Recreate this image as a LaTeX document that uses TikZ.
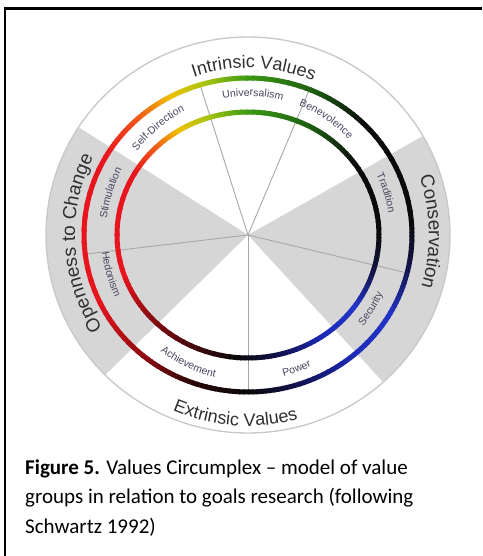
\documentclass[tikz,border=0pt]{standalone}
\usepackage{fontspec}
\usetikzlibrary{decorations.text}
\newfontfamily\capfont{Carlito}
\newfontfamily\lblfont{Liberation Sans}
\definecolor{sectorgray}{HTML}{D6D6D6}
\definecolor{rimgray}{HTML}{C8C8C8}
\definecolor{spokegray}{HTML}{A8A8A8}
\definecolor{biglbl}{HTML}{303030}
\definecolor{smalllbl}{HTML}{4A4660}
\definecolor{rdk}{HTML}{2A0606}
\definecolor{blk}{HTML}{0A0A0A}
\definecolor{navy}{HTML}{121250}
\definecolor{blu1}{HTML}{1C2CB8}
\definecolor{blu2}{HTML}{2234C8}
\definecolor{dkblu}{HTML}{141448}
\definecolor{dgrn}{HTML}{1C5A12}
\definecolor{grn}{HTML}{3C9A14}
\definecolor{ygrn}{HTML}{A8C410}
\definecolor{yel}{HTML}{EEC000}
\definecolor{orn}{HTML}{F05A18}
\definecolor{red1}{HTML}{E8141E}
\definecolor{dred}{HTML}{8A0A10}
\newcommand\bigfont{\lblfont\fontsize{18}{20}\selectfont}
\newcommand\sidefont{\lblfont\fontsize{19}{21}\selectfont}
\newcommand\smallfont{\lblfont\fontsize{10.5}{12}\selectfont}
\def\ringw{5pt}
% gradient arc: #1 rx, #2 ry, #3 a1, #4 a2, #5 c1, #6 c2
\newcommand\gradarc[6]{%
  \foreach \k in {0,...,11}{%
    \pgfmathsetmacro\aa{#3+(#4-#3)*\k/12}%
    \pgfmathsetmacro\dd{(#4-#3)*1.3/12}%
    \pgfmathtruncatemacro\pp{round(100*(\k+0.5)/12)}%
    \colorlet{segc}{#6!\pp!#5}%
    \draw[line width=\ringw, segc] ({\aa}:{#1} and {#2}) arc[start angle=\aa, delta angle=\dd, x radius=#1, y radius=#2];
  }}
\tikzset{
  bigcurved/.style={decorate, decoration={text along path, text align=center, text color=biglbl, text={|\bigfont|#1}}},
  sidecurved/.style={decorate, decoration={text along path, text align=center, text color=biglbl, text={|\sidefont|#1}}},
  smallcurved/.style={decorate, decoration={text along path, text align=center, text color=smalllbl, text={|\smallfont|#1}}},
  spoke/.style={spokegray, line width=0.9pt},
  capline/.style={anchor=base west, inner sep=0pt, font=\capfont\fontsize{21}{25}\selectfont},
}
\begin{document}
\begin{tikzpicture}[x=1pt,y=1pt]
\useasboundingbox (-248,-321) rectangle (234,235);
\fill[white] (-248,-321) rectangle (234,235);
% frame
\draw[line width=2.2pt] (-243,-321) -- (-243,226.5) -- (234,226.5);
\coordinate (ctr) at (0,0);
% gray sectors
\fill[sectorgray] (ctr) -- (147:202 and 198) arc[start angle=147, end angle=225, x radius=202, y radius=198] -- cycle;
\fill[sectorgray] (ctr) -- (-48:202 and 198) arc[start angle=-48, end angle=30, x radius=202, y radius=198] -- cycle;
% outer rim
\draw[rimgray, line width=1.3pt] (ctr) ellipse[x radius=202, y radius=198];
% spokes
\foreach \a in {107,68,-14,-90,187} \draw[spoke] (ctr) -- (\a:164 and 157);
% outer ring
\gradarc{164}{157}{-110}{-90}{rdk}{blk}
\gradarc{164}{157}{-90}{-72}{blk}{navy}
\gradarc{164}{157}{-72}{-50}{navy}{blu1}
\gradarc{164}{157}{-50}{-30}{blu1}{blu2}
\gradarc{164}{157}{-30}{-12}{blu2}{dkblu}
\gradarc{164}{157}{-12}{5}{dkblu}{blk}
\gradarc{164}{157}{5}{45}{blk}{blk}
\gradarc{164}{157}{45}{65}{blk}{dgrn}
\gradarc{164}{157}{65}{90}{dgrn}{grn}
\gradarc{164}{157}{90}{105}{grn}{ygrn}
\gradarc{164}{157}{105}{118}{ygrn}{yel}
\gradarc{164}{157}{118}{132}{yel}{orn}
\gradarc{164}{157}{132}{150}{orn}{red1}
\gradarc{164}{157}{150}{205}{red1}{red1}
\gradarc{164}{157}{205}{232}{red1}{dred}
\gradarc{164}{157}{232}{250}{dred}{rdk}
% inner ring
\gradarc{131}{123}{-95}{-75}{blk}{navy}
\gradarc{131}{123}{-75}{-55}{navy}{blu1}
\gradarc{131}{123}{-55}{-35}{blu1}{blu2}
\gradarc{131}{123}{-35}{-18}{blu2}{dkblu}
\gradarc{131}{123}{-18}{0}{dkblu}{blk}
\gradarc{131}{123}{0}{35}{blk}{blk}
\gradarc{131}{123}{35}{60}{blk}{dgrn}
\gradarc{131}{123}{60}{90}{dgrn}{grn}
\gradarc{131}{123}{90}{108}{grn}{ygrn}
\gradarc{131}{123}{108}{122}{ygrn}{yel}
\gradarc{131}{123}{122}{135}{yel}{orn}
\gradarc{131}{123}{135}{150}{orn}{red1}
\gradarc{131}{123}{150}{200}{red1}{red1}
\gradarc{131}{123}{200}{222}{red1}{dred}
\gradarc{131}{123}{222}{265}{dred}{blk}
% big labels
\path[bigcurved={Intrinsic Values}] (125:167) arc[start angle=125, end angle=51, radius=167];
\path[bigcurved={Extrinsic Values}] (226:191) arc[start angle=226, end angle=306, radius=191];
\path[sidecurved={Openness to Change}] (228:173) arc[start angle=228, end angle=138, radius=173];
\path[sidecurved={Conservation}] (43:181) arc[start angle=43, end angle=-41, radius=181];
% small labels (upper: clockwise, lower: counter-clockwise)
\path[smallcurved={Self-Direction}] (160:139) arc[start angle=160, end angle=100, radius=139];
\path[smallcurved={Universalism}] (118:139) arc[start angle=118, end angle=58, radius=139];
\path[smallcurved={Benevolence}] (86:139) arc[start angle=86, end angle=26, radius=139];
\path[smallcurved={Tradition}] (47:142) arc[start angle=47, end angle=-13, radius=142];
\path[smallcurved={Stimulation}] (193:142) arc[start angle=193, end angle=133, radius=142];
\path[smallcurved={Hedonism}] (166:147) arc[start angle=166, end angle=226, radius=147];
\path[smallcurved={Achievement}] (215:146) arc[start angle=215, end angle=275, radius=146];
\path[smallcurved={Power}] (-100:146) arc[start angle=-100, end angle=-40, radius=146];
\path[smallcurved={Security}] (-61:147) arc[start angle=-61, end angle=-1, radius=147];
% caption
\node[capline] (cap1) at (-223,-239) {\textbf{Figure 5.} Values Circumplex – model of value};
\node[capline] (cap2) at (-223,-268.5) {groups in relation to goals research (following};
\node[capline] (cap3) at (-223,-298) {Schwartz 1992)};
\end{tikzpicture}
\end{document}
